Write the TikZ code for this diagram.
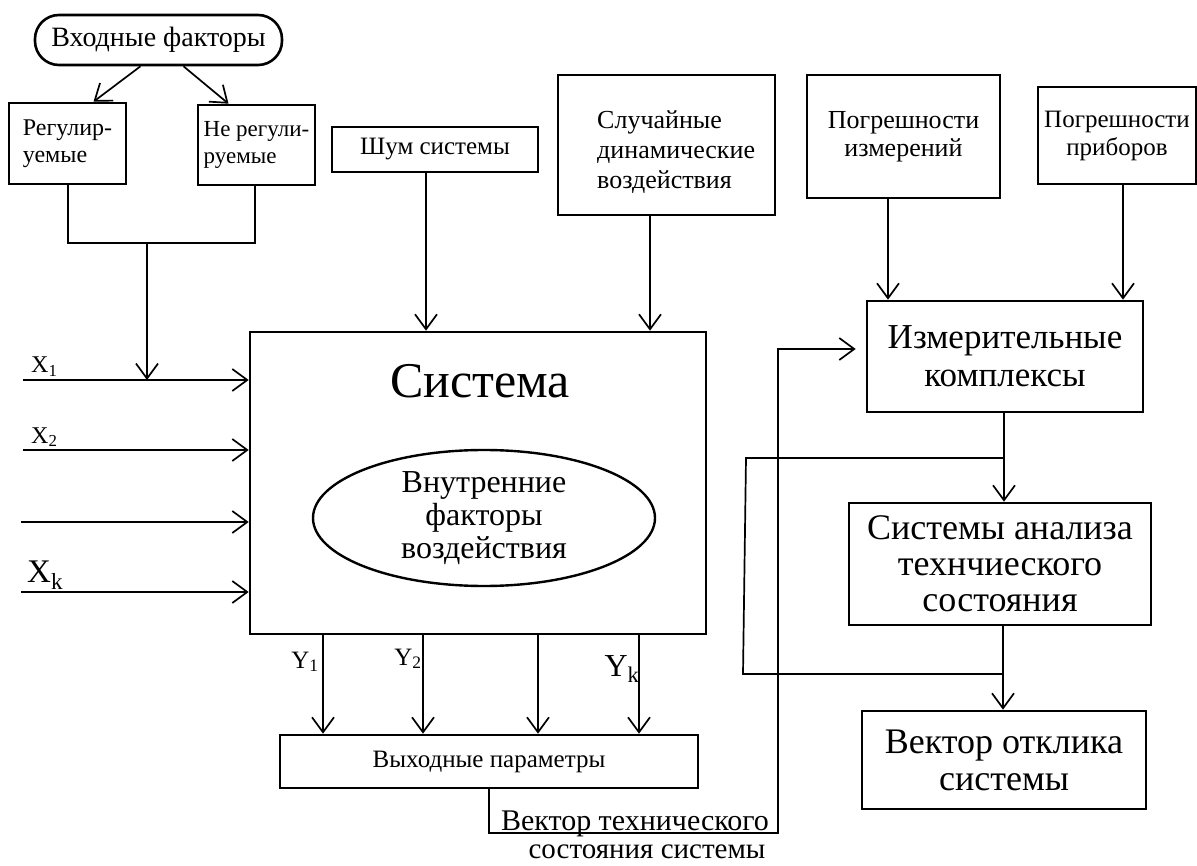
\documentclass[tikz,border=0pt]{standalone}
\usepackage{fontspec}
\setmainfont{Liberation Serif}
\usetikzlibrary{arrows.meta,calc,shapes.geometric}
\begin{document}
\begin{tikzpicture}[x=1pt,y=-1pt,
  box/.style={draw, line width=2.6pt, inner sep=2pt, align=center},
  arr/.style={-{Straight Barb[length=15pt,width=22pt,line width=1.7pt]}, line width=1.7pt},
  ln/.style={line width=1.7pt}]
\useasboundingbox (0,0) rectangle (1197,866);
% top left
\node[box, rounded corners=24pt, minimum width=247pt, minimum height=50pt, font=\fontsize{28}{32}\selectfont] (inp) at (158.5,40) {Входные факторы};
\node[box, minimum width=117pt, minimum height=81pt, align=left, font=\fontsize{24}{27}\selectfont] (reg) at (67.5,143.5) {Регулир-\\уемые};
\node[box, minimum width=117pt, minimum height=80pt, align=left, font=\fontsize{23}{27}\selectfont] (nreg) at (256.5,145) {Не регули-\\руемые};
\draw[arr] ($(inp.south)+(-18,0)$) -- ($(reg.north)+(26,0)$);
\draw[arr] ($(inp.south)+(25,0)$) -- ($(nreg.north)+(-28,0)$);
\coordinate (jl) at (68,243);
\coordinate (jr) at (255,243);
\coordinate (jm) at (147,243);
\draw[ln] (reg.south -| jl) -- (jl) -- (jr) -- (nreg.south -| jr);
% top middle
\node[box, minimum width=206pt, minimum height=45pt, font=\fontsize{25}{28}\selectfont] (noise) at (435,149.5) {Шум системы};
\node[box, minimum width=217pt, minimum height=140pt] (rand) at (666.5,145) {};
\node[align=left, inner sep=0pt, anchor=north west, font=\fontsize{26}{30}\selectfont] (randtxt) at (597,111) {Случайные\\динамические\\воздействия};
\node[box, minimum width=193pt, minimum height=123pt, font=\fontsize{26}{28}\selectfont] (pmeas) at (903.5,136.5) {Погрешности\\измерений};
\node[box, minimum width=158pt, minimum height=97pt, font=\fontsize{25}{28}\selectfont] (pdev) at (1117,135.5) {Погрешности\\приборов};
% system
\node[box, minimum width=456pt, minimum height=302pt] (sys) at (478,483) {};
\node[anchor=base, inner sep=0pt, font=\fontsize{50}{54}\selectfont] (systxt) at (480,398) {Система};
\node[draw, ellipse, line width=2.4pt, minimum width=342pt, minimum height=136pt, inner sep=0pt, align=center, font=\fontsize{32}{33}\selectfont] (inner) at (484,518) {Внутренние\\факторы\\воздействия};
\draw[arr] ($(noise.south)+(-9,0)$) coordinate (a1) -- (a1 |- sys.north);
\draw[arr] ($(rand.south)+(-16.5,0)$) coordinate (a2) -- (a2 |- sys.north);
% inputs
\coordinate (x1s) at (23,380);
\coordinate (x2s) at (23,450);
\coordinate (x3s) at (21,522);
\coordinate (xks) at (21,592);
\draw[arr] (x1s) -- (x1s -| sys.west);
\draw[arr] (x2s) -- (x2s -| sys.west);
\draw[arr] (x3s) -- (x3s -| sys.west);
\draw[arr] (xks) -- (xks -| sys.west);
\draw[arr] (jm) -- (jm |- x1s);
\node[anchor=base west, inner sep=0pt, font=\fontsize{24}{26}\selectfont] (lx1) at (31,373) {X\textsubscript{1}};
\node[anchor=base west, inner sep=0pt, font=\fontsize{24}{26}\selectfont] (lx2) at (31,443) {X\textsubscript{2}};
\node[anchor=base west, inner sep=0pt, font=\fontsize{33}{36}\selectfont] (lxk) at (27,582) {X\textsubscript{k}};
% outputs
\node[box, minimum width=418pt, minimum height=53pt, font=\fontsize{25}{28}\selectfont] (out) at (489,761.5) {Выходные параметры};
\foreach \xx/\nm in {323/y1,423/y2,538/y3,639/yk}{
  \coordinate (\nm) at (\xx,0);
  \draw[arr] (\nm |- sys.south) -- (\nm |- out.north);
}
\node[anchor=base, inner sep=0pt, font=\fontsize{25}{28}\selectfont] (ly1) at (305,668) {Y\textsubscript{1}};
\node[anchor=base, inner sep=0pt, font=\fontsize{25}{28}\selectfont] (ly2) at (408,665) {Y\textsubscript{2}};
\node[anchor=base, inner sep=0pt, font=\fontsize{32}{35}\selectfont] (lyk) at (622,676) {Y\textsubscript{k}};
% right column
\node[box, minimum width=276pt, minimum height=111pt, font=\fontsize{35}{38}\selectfont] (meas) at (1005,356.5) {Измерительные\\комплексы};
\node[box, minimum width=302pt, minimum height=122pt, font=\fontsize{36}{36}\selectfont] (anal) at (1000,564) {Системы анализа\\технчиеского\\состояния};
\node[box, minimum width=284pt, minimum height=98pt, font=\fontsize{36}{37}\selectfont] (resp) at (1004,760) {Вектор отклика\\системы};
\draw[arr] (pmeas.south -| 888,0) -- (meas.north -| 888,0);
\draw[arr] (pdev.south -| 1123,0) -- (meas.north -| 1123,0);
\draw[arr] (meas.south -| 1004,0) -- (anal.north -| 1004,0);
\draw[arr] (anal.south -| 1003,0) -- (resp.north -| 1003,0);
\coordinate (f1) at (746,458);
\coordinate (f2) at (743,674);
\draw[ln] (1004,0 |- f1) -- (f1) -- (f2) -- (1003,0 |- f2);
% feedback vector
\coordinate (v1) at (489,833);
\coordinate (v2) at (778,833);
\coordinate (v3) at (778,349);
\draw[arr] (out.south -| v1) -- (v1) -- (v2) -- (v3) -- ($(v3 -| meas.west)+(-10,0)$);
\node[anchor=base, inner sep=0pt, font=\fontsize{30}{32}\selectfont] (vt1) at (635,830) {Вектор технического};
\node[anchor=base, inner sep=0pt, font=\fontsize{29}{32}\selectfont] (vt2) at (647,858) {состояния системы};
\end{tikzpicture}
\end{document}
